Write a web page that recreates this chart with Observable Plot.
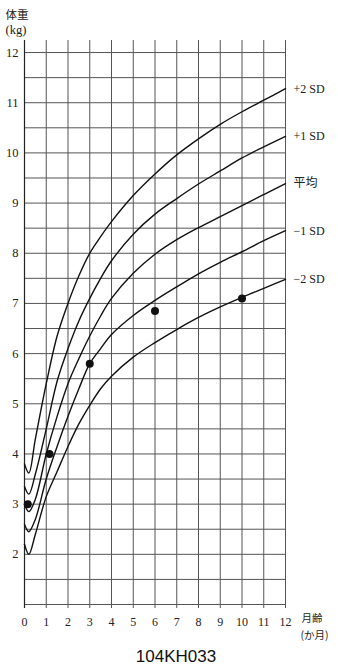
<!DOCTYPE html>
<html><head><meta charset="utf-8">
<script src="https://cdn.jsdelivr.net/npm/d3@7"></script>
<script src="https://cdn.jsdelivr.net/npm/@observablehq/plot@0.6"></script>
<style>
body{margin:0;background:#fff;width:338px;height:666px;overflow:hidden;position:relative;}
#cap{position:absolute;left:0;width:352px;text-align:center;top:648px;font-family:"Liberation Sans",Arial,sans-serif;font-size:17px;line-height:17px;color:#111;}
</style>
</head><body>
<div id="chart"></div>
<div id="cap">104KH033</div>
<script>
const months = [0, 0.2, 0.5, 1, 1.5, 2, 2.5, 3, 3.5, 4, 5, 6, 7, 8, 9, 10, 11, 12];
const plus2SD  = [3.8, 3.62, 4.3, 5.4, 6.35, 7.0, 7.55, 8.0, 8.33, 8.63, 9.15, 9.58, 9.96, 10.28, 10.57, 10.82, 11.05, 11.28];
const plus1SD  = [3.35, 3.2, 3.6, 4.5, 5.45, 6.1, 6.65, 7.1, 7.5, 7.85, 8.38, 8.78, 9.09, 9.38, 9.64, 9.9, 10.12, 10.33];
const meanW    = [3.0, 2.85, 3.1, 4.0, 4.75, 5.4, 5.9, 6.35, 6.75, 7.1, 7.6, 7.98, 8.27, 8.51, 8.73, 8.95, 9.17, 9.39];
const minus1SD = [2.6, 2.45, 2.7, 3.5, 4.15, 4.75, 5.3, 5.8, 6.1, 6.38, 6.76, 7.06, 7.33, 7.59, 7.82, 8.03, 8.25, 8.45];
const minus2SD = [2.2, 2.0, 2.4, 3.15, 3.65, 4.15, 4.6, 4.97, 5.3, 5.55, 5.93, 6.22, 6.48, 6.72, 6.93, 7.12, 7.3, 7.48];
const seriesNames = ["+2 SD", "+1 SD", "平均", "−1 SD", "−2 SD"];
const seriesValues = [plus2SD, plus1SD, meanW, minus1SD, minus2SD];
const babyMonths = [0.15, 1.15, 3, 6, 10];
const babyWeights = [3.0, 4.0, 5.8, 6.85, 7.1];
const xTicks = [0,1,2,3,4,5,6,7,8,9,10,11,12];
const yTicks = [2,3,4,5,6,7,8,9,10,11,12];
const hGrid = d3.range(1, 12.01, 0.5);

const rows = [];
seriesNames.forEach((name, i) => months.forEach((m, j) => rows.push({name, m, w: seriesValues[i][j]})));
const ends = seriesNames.map((name, i) => ({name, m: 12, w: seriesValues[i][months.length - 1]}));
const dots = babyMonths.map((m, i) => ({m, w: babyWeights[i]}));

const chart = Plot.plot({
  width: 338, height: 642,
  marginLeft: 24, marginRight: 53, marginTop: 40, marginBottom: 38,
  x: {domain: [0, 12], label: null},
  y: {domain: [1, 12.24], label: null},
  style: {fontFamily: "'Liberation Serif', 'DejaVu Serif', serif", fontSize: "12px", color: "#222", background: "#fff"},
  marks: [
    Plot.ruleY(hGrid, {stroke: "#555", strokeWidth: 1}),
    Plot.ruleX(xTicks, {y1: 0.92, y2: 12.24, stroke: "#555", strokeWidth: 1}),
    Plot.ruleX([0], {y1: 0.92, y2: 12.24, stroke: "#222", strokeWidth: 1.2}),
    Plot.line(rows, {x: "m", y: "w", z: "name", stroke: "#111", strokeWidth: 1.4, curve: "catmull-rom"}),
    Plot.dot(dots, {x: "m", y: "w", r: 4, fill: "#111"}),
    Plot.axisX(xTicks, {tickSize: 0, tickPadding: 13, fontSize: 12, tickFormat: d => d, label: null}),
    Plot.axisY(yTicks, {tickSize: 0, tickPadding: 6, fontSize: 12.5, tickFormat: d => d, label: null}),
    Plot.text(ends, {x: "m", y: "w", text: "name", dx: 8, textAnchor: "start", fontSize: 12,
      fontFamily: "'Liberation Serif', 'Noto Sans CJK JP', serif"}),
    Plot.text(["体重"], {frameAnchor: "top-left", dx: -19, dy: -30, textAnchor: "start", fontSize: 11.5, fontFamily: "'Noto Sans CJK JP', sans-serif"}),
    Plot.text(["(kg)"], {frameAnchor: "top-left", dx: -19, dy: -15, textAnchor: "start", fontSize: 12.5}),
    Plot.text(["月齢"], {frameAnchor: "bottom-right", dx: 16, dy: 17, textAnchor: "start", fontSize: 10.5, fontFamily: "'Noto Sans CJK JP', sans-serif"}),
    Plot.text(["(か月)"], {frameAnchor: "bottom-right", dx: 15, dy: 34, textAnchor: "start", fontSize: 10.5, fontFamily: "'Noto Sans CJK JP', sans-serif"})
  ]
});
document.getElementById("chart").appendChild(chart);
</script>
</body></html>
